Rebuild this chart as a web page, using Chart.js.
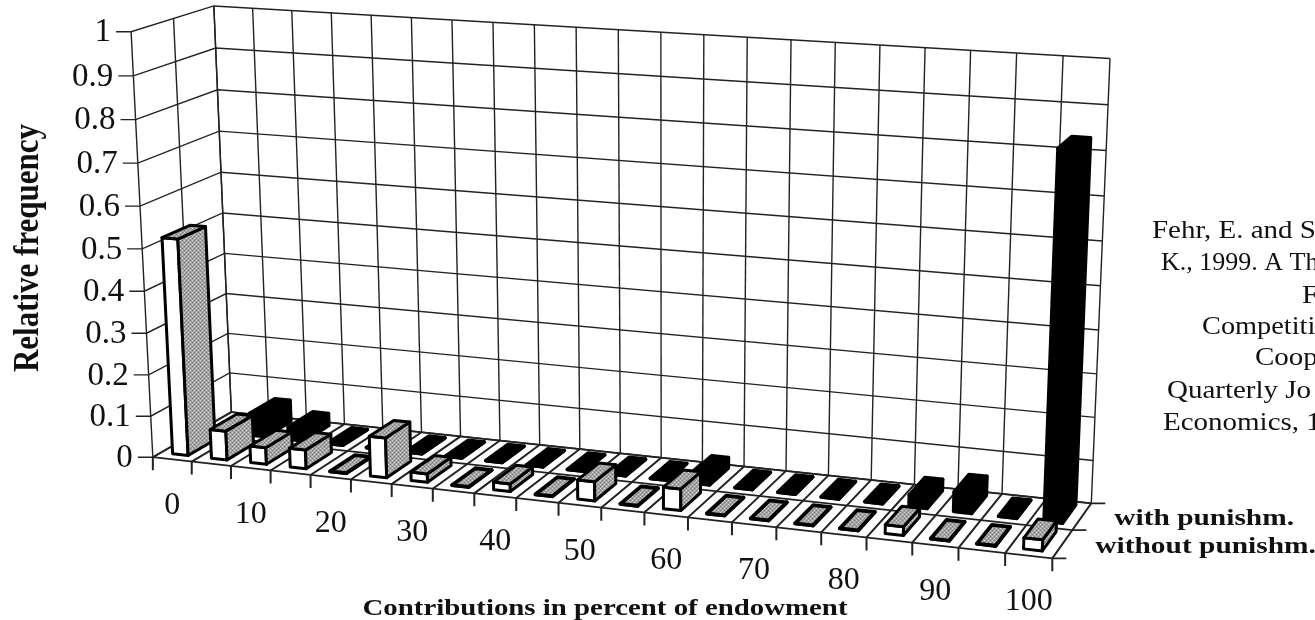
<!DOCTYPE html>
<html><head><meta charset="utf-8">
<style>html,body{margin:0;padding:0;background:#fff;overflow:hidden}canvas{display:block}</style>
<script src="https://cdn.jsdelivr.net/npm/chart.js@4"></script>
</head><body><canvas id="c" width="1315" height="620"></canvas>
<script>
const categories = ['0','5','10','15','20','25','30','35','40','45','50','55','60','65','70','75','80','85','90','95','100'];
const withoutPunishm = [0.52,0.07,0.04,0.045,0,0.095,0.02,0,0.018,0,0.045,0,0.05,0,0,0,0,0.02,0,0,0.025];
const withPunishm    = [0,0.053,0.03,0,0,0,0,0,0,0,0,0,0.025,0,0,0,0,0.027,0.045,0,0.83];
const rows = ['without punishm.','with punishm.'];
const yTickLabels = ['0','0.1','0.2','0.3','0.4','0.5','0.6','0.7','0.8','0.9','1'];
const xTickLabels = ['0','10','20','30','40','50','60','70','80','90','100'];
const yTitle = 'Relative frequency';
const xTitle = 'Contributions in percent of endowment';
const captionLines = ['Fehr, E. and S','K., 1999. A Th','F','Competiti','Coop','Quarterly Jo','Economics, 1'];

// camera calibration: [u, v, w] of the plot box -> picture position
const calib = [
 [0,0,0,152,457],[1,0,0,1052,558],[1,1,0,1092,503],[0,1,0,232,412],
 [0,0,1,131,32],[0,1,1,214,6],[1,1,1,1111,58],
 [10/21,0,0,559,504],[10/21,1,1,618,30],
 [0,0,.5,143,248],[0,1,.5,222,213],[1,1,.5,1099,286]
];
function solveCamera(pts){
  const n=11,A=Array.from({length:n},()=>new Array(n+1).fill(0));
  const add=(r,b)=>{for(let i=0;i<n;i++){for(let j=0;j<n;j++)A[i][j]+=r[i]*r[j];A[i][n]+=r[i]*b;}};
  for(const [X,Y,Z,x,y] of pts){
    add([X,Y,Z,1,0,0,0,0,-x*X,-x*Y,-x*Z],x);
    add([0,0,0,0,X,Y,Z,1,-y*X,-y*Y,-y*Z],y);
  }
  for(let i=0;i<n;i++){
    let m=i;for(let k=i+1;k<n;k++)if(Math.abs(A[k][i])>Math.abs(A[m][i]))m=k;
    [A[i],A[m]]=[A[m],A[i]];
    for(let k=0;k<n;k++){if(k===i)continue;const f=A[k][i]/A[i][i];for(let j=i;j<=n;j++)A[k][j]-=f*A[i][j];}
  }
  return A.map((r,i)=>r[n]/r[i]);
}
const P=solveCamera(calib);
function proj(u,v,w){
  const d=P[8]*u+P[9]*v+P[10]*w+1;
  return [(P[0]*u+P[1]*v+P[2]*w+P[3])/d,(P[4]*u+P[5]*v+P[6]*w+P[7])/d];
}
const decY=(Y,val)=>(Y.bottom-Y.getPixelForValue(val))/Y.height;
function poly(ctx,pts,close){
  ctx.beginPath();pts.forEach((p,i)=>i?ctx.lineTo(p[0],p[1]):ctx.moveTo(p[0],p[1]));
  if(close)ctx.closePath();
}
function seg(ctx,a,b){ctx.beginPath();ctx.moveTo(a[0],a[1]);ctx.lineTo(b[0],b[1]);ctx.stroke();}
function dither(ctx){
  const c=document.createElement('canvas');c.width=c.height=4;
  const g=c.getContext('2d');g.fillStyle='#a2a2a2';g.fillRect(0,0,4,4);
  g.fillStyle='#d8d8d8';g.fillRect(0,0,1,1);g.fillRect(2,2,1,1);
  g.fillStyle='#808080';g.fillRect(2,0,1,1);g.fillRect(0,2,1,1);
  return ctx.createPattern(c,'repeat');
}
const BAR_DEPTH=0.34;

class Bar3D extends Chart.BarController{
  static id='bar3d';
  static defaults=Chart.BarController.defaults;
  static overrides=Chart.BarController.overrides;
  draw(){
    const ctx=this.chart.ctx,meta=this._cachedMeta,ds=this.getDataset();
    const xs=meta.xScale,ys=meta.yScale,dz=this.chart.scales.depth;
    const vc=(dz.getPixelForValue(dz.getLabels().indexOf(ds.label))-dz.left)/dz.width+0.02;
    const solid=ds.backgroundColor==='#000000';
    const gray=dither(ctx);
    ctx.save();ctx.lineJoin='round';
    meta.data.forEach(el=>{
      const u=(el.x-xs.left)/xs.width,h=el.width/2/xs.width;
      const w=(ys.bottom-el.y)/ys.height;
      const v0=vc-BAR_DEPTH/2,v1=vc+BAR_DEPTH/2,u0=u-h,u1=u+h;
      const f=[proj(u0,v0,0),proj(u1,v0,0),proj(u1,v0,w),proj(u0,v0,w)];
      const s=[proj(u1,v0,0),proj(u1,v1,0),proj(u1,v1,w),proj(u1,v0,w)];
      const t=[proj(u0,v0,w),proj(u1,v0,w),proj(u1,v1,w),proj(u0,v1,w)];
      ctx.strokeStyle='#000';ctx.lineWidth=solid||w===0?3.8:3;
      [[f,solid?'#000':'#fff'],[s,solid?'#000':gray],[t,solid?'#000':gray]].forEach(([q,col])=>{
        poly(ctx,q,true);ctx.fillStyle=col;ctx.fill();ctx.stroke();
      });
    });
    ctx.restore();
  }
}
Chart.register(Bar3D);

const framePlugin={
  id:'frame',
  beforeDatasetsDraw(chart){
    const ctx=chart.ctx,Y=chart.scales.y;
    ctx.save();
    ctx.fillStyle='#fff';ctx.fillRect(0,0,chart.width,chart.height);
    ctx.strokeStyle='#222';ctx.lineWidth=1.4;
    const n=categories.length;
    yTickLabels.forEach(l=>{
      const w=decY(Y,+l);
      const a=proj(0,0,w),b=proj(0,1,w),c=proj(1,1,w);
      poly(ctx,[[a[0]-15,a[1]],a,b,c]);ctx.stroke();
    });
    for(let i=0;i<=n;i++){
      const u=i/n;
      seg(ctx,proj(u,1,0),proj(u,1,1));
      const a=proj(u,0,0);
      ctx.lineWidth=2;
      poly(ctx,[[a[0],a[1]+13],a,proj(u,1,0)]);ctx.stroke();
      ctx.lineWidth=1.4;
    }
    [0,.5,1].forEach(v=>{
      seg(ctx,proj(0,v,0),proj(0,v,1));
      const b=proj(1,v,0);
      ctx.lineWidth=1.8;
      poly(ctx,[proj(0,v,0),b,[b[0]+14,b[1]]]);ctx.stroke();
      ctx.lineWidth=1.4;
    });
    ctx.restore();
  },
  afterDatasetsDraw(chart){
    const ctx=chart.ctx,X=chart.scales.x,Y=chart.scales.y;
    ctx.save();
    ctx.fillStyle='#111';ctx.textBaseline='middle';
    ctx.font='33px "Liberation Serif"';
    ctx.textAlign='right';
    yTickLabels.forEach(l=>{
      const p=proj(0,0,decY(Y,+l));
      ctx.fillText(l,p[0]-20,p[1]+1);
    });
    ctx.font='32px "Liberation Serif"';
    ctx.textAlign='center';
    xTickLabels.forEach(l=>{
      const i=categories.indexOf(l);
      const p=proj((X.getPixelForValue(i)-X.left)/X.width,0,0);
      ctx.fillText(l,p[0],p[1]+46);
    });
    const wide=(t,x,y,sx,align)=>{
      ctx.save();ctx.translate(x,y);ctx.scale(sx,1);ctx.textAlign=align||'left';ctx.fillText(t,0,0);ctx.restore();
    };
    ctx.font='bold 23px "Liberation Serif"';
    const a=proj(1,1,0),b=proj(1,.5,0);
    wide(rows[1],a[0]+23,a[1]+16,1.278);
    wide(rows[0],b[0]+23,b[1]+17,1.278);
    wide(xTitle,605,609,1.254,'center');
    ctx.save();ctx.translate(29,248);ctx.rotate(-Math.PI/2);ctx.scale(1,1.15);
    ctx.font='bold 31px "Liberation Serif"';ctx.textAlign='center';ctx.fillText(yTitle,0,0);ctx.restore();
    ctx.font='26px "Liberation Serif"';ctx.textBaseline='alphabetic';ctx.fillStyle='#111';
    const cx=[1152,1161,1302,1202,1255,1167,1163],cy=[238,270,303,334,365,398,430];
    const stretch=[1.115,1,1.115,1.09,1.115,1.115,1.115];
    captionLines.forEach((t,i)=>wide(t,cx[i],cy[i],stretch[i]));
    ctx.restore();
  }
};

new Chart(document.getElementById('c'),{
  type:'bar3d',
  data:{labels:categories,datasets:[
    {label:rows[0],data:withoutPunishm,backgroundColor:'#ffffff',borderColor:'#000'},
    {label:rows[1],data:withPunishm,backgroundColor:'#000000',borderColor:'#000'}
  ]},
  options:{
    responsive:false,animation:false,
    layout:{padding:0},
    datasets:{bar3d:{grouped:false,barPercentage:0.4,categoryPercentage:1}},
    plugins:{legend:{display:false},title:{display:false},tooltip:{enabled:false}},
    scales:{
      x:{type:'category',display:false,offset:true},
      y:{type:'linear',display:false,min:0,max:1},
      depth:{type:'category',axis:'x',labels:rows,offset:true,display:false}
    }
  },
  plugins:[framePlugin]
});
</script></body></html>
